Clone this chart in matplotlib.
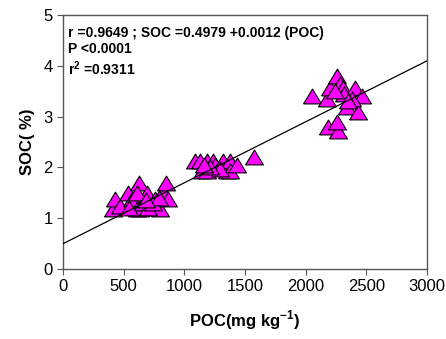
import numpy as np
import matplotlib.pyplot as plt

plt.rcParams['font.family'] = ['Liberation Sans', 'DejaVu Sans']
plt.rcParams['mathtext.fontset'] = 'custom'
plt.rcParams['mathtext.rm'] = 'Liberation Sans'
plt.rcParams['mathtext.bf'] = 'Liberation Sans:bold'

# 数据
poc = [412, 430, 470, 536, 569, 610, 626, 635, 660, 692, 720, 758, 780, 800, 824, 849, 865, 610, 700, 540, 740, 790, 680,
       1088, 1129, 1146, 1187, 1187, 1236, 1250, 1319, 1352, 1376, 1376, 1434, 1290, 1210, 1160, 1574,
       2052, 2175, 2200, 2259, 2280, 2308, 2407, 2464, 2340, 2431, 2184, 2266, 2258, 2380, 2320, 2240, 2350]
soc = [1.18, 1.38, 1.25, 1.5, 1.38, 1.18, 1.69, 1.18, 1.3, 1.5, 1.25, 1.38, 1.2, 1.18, 1.5, 1.69, 1.38, 1.5, 1.2, 1.2, 1.3, 1.4, 1.35,
       2.13, 2.13, 1.93, 2.13, 1.93, 2.13, 2.05, 2.13, 1.93, 2.13, 1.93, 2.05, 1.97, 2.0, 2.05, 2.2,
       3.41, 3.35, 3.56, 3.8, 3.65, 3.57, 3.57, 3.41, 3.19, 3.1, 2.8, 2.72, 2.9, 3.35, 3.45, 3.5, 3.3]

a, b = 0.4979, 0.0012
xline = np.array([0, 3000])

fig = plt.figure(figsize=(4.46, 3.39), dpi=100)
ax = fig.add_axes([63/446, 1-269/339, 364/446, 254/339])

tri = [(-1, -0.83), (1, -0.83), (0, 0.83), (-1, -0.83)]
ax.plot(xline, a + b*xline, color='black', lw=0.9, zorder=3)
ax.scatter(poc, soc, marker=tri, s=165, facecolor='#FF00FF', edgecolor='black', linewidth=0.8, zorder=2)

ax.set_xlim(0, 3000)
ax.set_ylim(0, 5)
ax.set_xticks(range(0, 3001, 500))
ax.set_yticks(range(0, 6))
ax.tick_params(direction='out', labelsize=12, length=4, color='#555555')
for s in ax.spines.values():
    s.set_color('#555555')
    s.set_linewidth(1.0)

ax.set_xlabel(r'POC(mg kg$^{\mathbf{-1}}$)', fontsize=12, fontweight='bold', labelpad=10)
ax.set_ylabel('SOC( %)', fontsize=12, fontweight='bold', labelpad=6)

ax.text(0.015, 0.915, 'r =0.9649 ; SOC =0.4979 +0.0012 (POC)', transform=ax.transAxes,
        fontsize=10, fontweight='bold')
ax.text(0.015, 0.85, 'P <0.0001', transform=ax.transAxes, fontsize=10, fontweight='bold')
ax.text(0.015, 0.765, r'r$^{\mathbf{2}}$ =0.9311', transform=ax.transAxes, fontsize=10, fontweight='bold')

fig.savefig('out.png', dpi=100)
